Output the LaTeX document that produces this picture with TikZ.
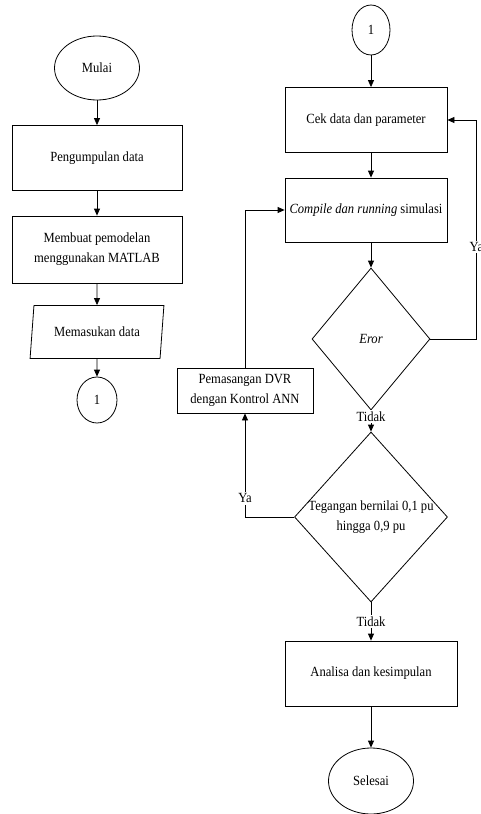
\documentclass[tikz,border=0pt]{standalone}
\usepackage{fontspec}
\setmainfont[FakeStretch=0.9]{Liberation Serif}
\usetikzlibrary{shapes.geometric, positioning, arrows.meta}

\begin{document}
\begin{tikzpicture}[x=1pt, y=1pt, on grid, line width=0.8pt, >={Triangle[length=7pt,width=6pt]},
   every node/.style={font=\fontsize{14}{20}\selectfont, inner sep=0pt},
   terminal/.style={draw, ellipse, minimum width=85pt, minimum height=64pt},
   konektor/.style={draw, ellipse, minimum width=40pt, minimum height=46pt},
   proses/.style={draw, rectangle, align=center},
   keputusan/.style={draw, diamond},
   masukan/.style={draw, trapezium, trapezium left angle=75, trapezium right angle=105,
      trapezium stretches=true, minimum width=135pt, minimum height=53pt},
   ket/.style={fill=white, inner sep=1.5pt}]
   \useasboundingbox (0,0) rectangle (480,-814);
   % kolom kiri
   \node[terminal] (mulai) at (97,-68) {Mulai};
   \node[proses, minimum width=170pt, minimum height=65pt] (kumpul) [below=90pt of mulai] {Pengumpulan data};
   \node[proses, minimum width=170pt, minimum height=67pt] (model) [below=91.5pt of kumpul] {Membuat pemodelan\\menggunakan MATLAB};
   \node[masukan] (data) [below=82.5pt of model] {Memasukan data};
   \node[konektor] (satuA) [below=68pt of data] {1};
   % kolom kanan
   \node[konektor, minimum width=38pt, minimum height=50pt] (satuB) at (371,-30) {1};
   \node[proses, minimum width=162pt, minimum height=65pt] (cek) [below=90pt of satuB, xshift=-5pt] {Cek data dan parameter};
   \node[proses, minimum width=162pt, minimum height=64pt] (comp) [below=90pt of cek] {\textit{Compile dan running} simulasi};
   \node[keputusan, minimum width=118pt, minimum height=142pt] (eror) [below=129pt of comp, xshift=5pt] {\textit{Eror}};
   \node[keputusan, minimum width=153pt, minimum height=170pt] (teg) [below=178pt of eror] {};
   \node[align=center] (tegket) at (teg) {Tegangan bernilai 0,1 pu\\hingga 0,9 pu};
   \node[proses, minimum width=136pt, minimum height=45pt] (dvr) [above left=126.5pt and 126pt of teg] {Pemasangan DVR\\dengan Kontrol ANN};
   \node[proses, minimum width=172pt, minimum height=65pt] (analisa) [below=156.5pt of teg] {Analisa dan kesimpulan};
   \node[terminal, minimum height=66pt] (selesai) [below=107.5pt of analisa] {Selesai};

   \path[->]
    (mulai)  edge (kumpul)
    (kumpul) edge (model)
    (model)  edge (data)
    (data)   edge (satuA)
    (satuB)  edge (satuB |- cek.north)
    (cek.south -| satuB) edge (comp.north -| satuB)
    (comp.south -| eror) edge (eror)
    (eror)   edge node[ket, pos=0.3] {Tidak} (teg)
    (teg)    edge node[ket] {Tidak} (analisa)
    (analisa) edge (selesai);

   % percabangan
   \draw[->] (eror.east) -- ++(46,0) |- node[ket, pos=0.21] {Ya} (cek.east);
   \draw[->] (teg.west) -| node[ket, pos=0.59] {Ya} (dvr.south);
   \draw[->] (dvr.north) |- (comp.west);
\end{tikzpicture}
\end{document}
